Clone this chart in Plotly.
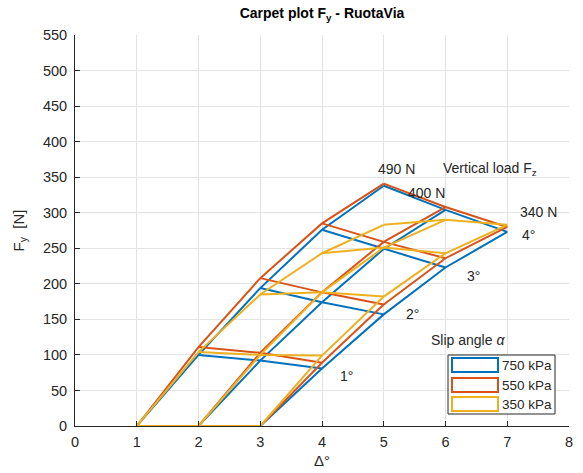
import plotly.graph_objects as go

# Carpet plot of lateral force Fy versus slip angle and vertical load
slip_angles = [0, 1, 2, 3, 4]          # deg
loads = ["490 N", "400 N", "340 N"]    # vertical load Fz
pressures = ["750 kPa", "550 kPa", "350 kPa"]
colors = ["#0072BD", "#D95319", "#EDB120"]

# Fy [N] per pressure: rows = load, columns = slip angle
fy_750 = [[0, 100, 194, 276, 338],
          [0, 92, 174, 249, 304],
          [0, 81, 157, 223, 273]]
fy_550 = [[0, 111, 208, 285, 341],
          [0, 103, 188, 259, 308],
          [0, 89, 171, 236, 280]]
fy_350 = [[0, 104, 185, 243, 283],
          [0, 100, 188, 251, 290],
          [0, 99, 182, 243, 283]]
fy_sets = [fy_750, fy_550, fy_350]

x_ticks = list(range(0, 9))
y_ticks = list(range(0, 551, 50))

fig = go.Figure()


def carpet_xy(fy):
    """Carpet abscissa: slip angle shifted by one unit per load level."""
    xs, ys = [], []
    # constant-load lines
    for k, row in enumerate(fy):
        for a, v in zip(slip_angles, row):
            xs.append(a + k + 1)
            ys.append(v)
        xs.append(None)
        ys.append(None)
    # constant-slip-angle lines
    for j, a in enumerate(slip_angles):
        for k in range(len(fy)):
            xs.append(a + k + 1)
            ys.append(fy[k][j])
        xs.append(None)
        ys.append(None)
    return xs, ys


for name, col, fy in zip(pressures, colors, fy_sets):
    xs, ys = carpet_xy(fy)
    fig.add_trace(go.Scatter(x=xs, y=ys, mode="lines", name=name,
                             line=dict(color=col, width=2),
                             showlegend=False, hoverinfo="skip"))

FONT = "Liberation Sans, Arial, sans-serif"
txt = dict(family=FONT, size=14, color="#262626")

# load labels along the 4 deg line and slip-angle labels
labels = [
    (5.21, 362, "490 N"),
    (6.72, 362, "Vertical load F<sub>z</sub>"),
    (5.70, 328, "400 N"),
    (7.50, 301, "340 N"),
    (7.34, 269, "4°"),
    (6.46, 211, "3°"),
    (5.46, 158, "2°"),
    (6.37, 121, "Slip angle <i>α</i>"),
    (4.40, 71, "1°"),
]
for lx, ly, t in labels:
    fig.add_annotation(x=lx, y=ly, text=t, showarrow=False, font=txt,
                       xanchor="center", yanchor="middle")

# legend box with outlined swatches
L, R, B, T = 75, 569, 426, 35


def px(v):
    return (v - L) / (R - L)


def py(v):
    return (B - v) / (B - T)


fig.add_shape(type="rect", xref="paper", yref="paper",
              x0=px(448), x1=px(555), y0=py(414), y1=py(355),
              line=dict(color="#262626", width=1), fillcolor="white", layer="above")
rows_y = [(358, 372), (378, 392), (397, 411)]
for (y0, y1), col, name in zip(rows_y, colors, pressures):
    fig.add_shape(type="rect", xref="paper", yref="paper",
                  x0=px(452), x1=px(498), y0=py(y1), y1=py(y0),
                  line=dict(color=col, width=2), fillcolor="rgba(0,0,0,0)", layer="above")
    fig.add_annotation(xref="paper", yref="paper", x=px(500), y=py((y0 + y1) / 2),
                       text=name, showarrow=False, xanchor="left", yanchor="middle",
                       font=dict(family=FONT, size=13.5, color="#262626"))

axis_common = dict(showgrid=True, gridcolor="#e3e3e3", gridwidth=1,
                   zeroline=False, showline=True, linecolor="#262626", linewidth=1,
                   ticks="inside", ticklen=5, tickcolor="#262626", automargin=False,
                   tickfont=dict(family=FONT, size=14.5, color="#262626"))

fig.update_layout(
    width=583, height=473,
    margin=dict(l=L, r=583 - R, t=T, b=473 - B),
    paper_bgcolor="white", plot_bgcolor="white",
    title=dict(text="<b>Carpet plot F<sub>y</sub> - RuotaVia</b>",
               x=0.5, xref="paper", y=1 - 13 / 473, yref="container",
               xanchor="center", yanchor="middle",
               font=dict(family=FONT, size=14, color="#000000")),
    xaxis=dict(range=[0, 8], tickvals=x_ticks, ticktext=[str(v) for v in x_ticks],
               ticklabelstandoff=3,
               title=dict(text="Δ°", standoff=6,
                          font=dict(family=FONT, size=15, color="#262626")),
               **axis_common),
    yaxis=dict(range=[0, 550], tickvals=y_ticks, ticktext=[str(v) for v in y_ticks],
               ticklabelstandoff=4,
               title=dict(text="F<sub>y</sub>  [N]", standoff=14,
                          font=dict(family=FONT, size=15, color="#262626")),
               **axis_common),
)

fig.write_html("out.html")
